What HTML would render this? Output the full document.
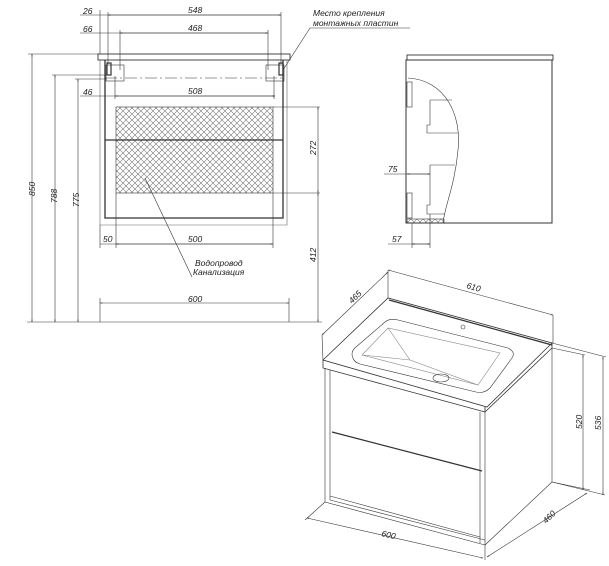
<!DOCTYPE html>
<html><head><style>body{margin:0;background:#fff}svg{display:block}text{font-family:"Liberation Sans",sans-serif;font-style:italic;font-size:8.5px;fill:#222}</style></head>
<body>
<svg width="609" height="566" viewBox="0 0 609 566" xmlns="http://www.w3.org/2000/svg">
<defs>
<pattern id="h" width="6" height="6" patternUnits="userSpaceOnUse"><path d="M0 0L6 6M6 0L0 6" stroke="#777" stroke-width="0.6"/></pattern>
<marker id="a" viewBox="0 0 10 10" refX="10" refY="5" markerWidth="6" markerHeight="4" orient="auto-start-reverse"><path d="M0 2L10 5L0 8" fill="none" stroke="#333"/></marker>
</defs>
<g stroke="#333" stroke-width="0.6" fill="none">
<!-- front view top dims -->
<line x1="80" y1="15" x2="281" y2="15"/><line x1="108" y1="15" x2="281" y2="15" marker-start="url(#a)" marker-end="url(#a)"/>
<line x1="80" y1="33" x2="268" y2="33"/><line x1="120" y1="33" x2="268" y2="33" marker-start="url(#a)" marker-end="url(#a)"/>
<line x1="100" y1="10" x2="100" y2="54"/><line x1="108" y1="12" x2="108" y2="64"/><line x1="281" y1="12" x2="281" y2="64"/><line x1="120" y1="30" x2="120" y2="70"/><line x1="268" y1="30" x2="268" y2="70"/>
<!-- countertop and body -->
<rect x="98" y="54" width="192" height="6" stroke-width="0.9"/>
<path d="M100 60V225H287V60" stroke="#666"/>
<path d="M105 60V218H283V60" stroke-width="1.3"/>
<rect x="106" y="65" width="18" height="16"/><rect x="266" y="65" width="18" height="16"/>
<rect x="107" y="63" width="4" height="12" stroke-width="1.2"/><rect x="279" y="63" width="4" height="12" stroke-width="1.2"/>
<line x1="105" y1="78" x2="283" y2="78" stroke-dasharray="12 3 2 3"/>
<line x1="80" y1="96" x2="275" y2="96"/><line x1="115" y1="96" x2="275" y2="96" marker-start="url(#a)" marker-end="url(#a)"/>
<line x1="115" y1="76" x2="115" y2="99"/><line x1="274" y1="76" x2="274" y2="99"/>
<rect x="116" y="107" width="157" height="86" fill="url(#h)"/>
<line x1="105" y1="140" x2="283" y2="140" stroke-width="1.2"/>
<line x1="273" y1="107" x2="320" y2="107"/><line x1="273" y1="193" x2="320" y2="193"/>
<line x1="318" y1="107" x2="318" y2="193" marker-start="url(#a)" marker-end="url(#a)"/>
<line x1="318" y1="193" x2="318" y2="322" marker-start="url(#a)" marker-end="url(#a)"/>
<line x1="100" y1="225" x2="100" y2="248"/><line x1="116" y1="193" x2="116" y2="248"/><line x1="273" y1="193" x2="273" y2="248"/>
<line x1="100" y1="244" x2="273" y2="244"/><line x1="116" y1="244" x2="273" y2="244" marker-start="url(#a)" marker-end="url(#a)"/>
<line x1="145" y1="178" x2="192" y2="277"/>
<line x1="100" y1="298" x2="100" y2="322"/><line x1="289" y1="298" x2="289" y2="322"/>
<line x1="100" y1="303" x2="289" y2="303" marker-start="url(#a)" marker-end="url(#a)"/>
<line x1="27" y1="322" x2="322" y2="322"/>
<line x1="28" y1="54" x2="98" y2="54"/><line x1="32" y1="54" x2="32" y2="322" marker-start="url(#a)" marker-end="url(#a)"/>
<line x1="52" y1="75" x2="107" y2="75"/><line x1="55" y1="75" x2="55" y2="322" marker-start="url(#a)" marker-end="url(#a)"/>
<line x1="75" y1="79" x2="107" y2="79"/><line x1="78" y1="79" x2="78" y2="322" marker-start="url(#a)" marker-end="url(#a)"/>
<!-- leader top right -->
<path d="M283 70L310 28H410"/>
<!-- side view -->
<rect x="407" y="55" width="146" height="5" stroke-width="0.9"/>
<rect x="406" y="60" width="146" height="163" stroke-width="1"/>
<path d="M408 78C445 80 462 115 458 150C455 185 445 205 443 223"/>
<rect x="407" y="82" width="5" height="25"/><rect x="407" y="193" width="5" height="25"/>
<path d="M430 100H452M430 100V125H427V133H458M430 165H455M430 165V205H427V214H445"/>
<rect x="407" y="219" width="37" height="4" fill="url(#h)"/>
<line x1="384" y1="174" x2="430" y2="174"/><line x1="407" y1="174" x2="430" y2="174" marker-start="url(#a)" marker-end="url(#a)"/>
<line x1="412" y1="223" x2="412" y2="248"/><line x1="430" y1="214" x2="430" y2="248"/>
<line x1="388" y1="244" x2="430" y2="244"/><line x1="412" y1="244" x2="430" y2="244" marker-start="url(#a)" marker-end="url(#a)"/>
<!-- iso view -->
<path d="M323 360L388 298L552 343L487 407Z" stroke-width="0.8"/>
<path d="M323 360V368L485 412V407M485 412L552 348V343" stroke-width="0.8"/>
<line x1="389" y1="300" x2="552" y2="345" stroke-width="1.3"/>
<path d="M325 368V502L485 545V412M330 370V500M480 412V543M552 348V482L485 545"/>
<path d="M330 500L485 540M330 496L480 537"/>
<line x1="332" y1="432" x2="482" y2="471" stroke-width="1.2"/>
<path d="M353 358Q350 352 356 347L385 322Q390 318 398 320L508 348Q516 352 512 358L490 388Q484 394 476 392L360 364Q354 362 353 358Z"/>
<path d="M362 355L388 328L500 353L478 385Z" stroke="#888"/>
<path d="M388 328L410 360L478 385M362 355L410 360" stroke="#888"/>
<ellipse cx="441" cy="378" rx="8" ry="4"/><circle cx="463" cy="327" r="2"/>
<line x1="388" y1="270" x2="553" y2="315" marker-start="url(#a)" marker-end="url(#a)"/>
<line x1="388" y1="270" x2="388" y2="298"/><line x1="553" y1="315" x2="553" y2="343"/>
<line x1="322" y1="335" x2="388" y2="272" marker-start="url(#a)" marker-end="url(#a)"/>
<line x1="322" y1="335" x2="323" y2="360"/>
<line x1="552" y1="343" x2="606" y2="357"/><line x1="552" y1="348" x2="585" y2="355"/>
<line x1="552" y1="482" x2="605" y2="495"/>
<line x1="583" y1="355" x2="583" y2="490" marker-start="url(#a)" marker-end="url(#a)"/>
<line x1="603" y1="357" x2="603" y2="495" marker-start="url(#a)" marker-end="url(#a)"/>
<line x1="307" y1="518" x2="483" y2="558" marker-start="url(#a)" marker-end="url(#a)"/>
<line x1="325" y1="502" x2="305" y2="520"/><line x1="485" y1="545" x2="485" y2="560"/>
<line x1="487" y1="557" x2="587" y2="493" marker-start="url(#a)" marker-end="url(#a)"/>
<line x1="552" y1="482" x2="590" y2="490"/>
</g>
<text x="83" y="14">26</text><text x="188" y="13">548</text>
<text x="83" y="32">66</text><text x="188" y="31">468</text>
<text x="83" y="95">46</text><text x="188" y="94">508</text>
<text x="103" y="242">50</text><text x="188" y="242">500</text>
<text x="188" y="302">600</text>
<text x="195" y="266">Водопровод</text><text x="193" y="275">Канализация</text>
<text x="313" y="16">Место крепления</text><text x="313" y="26">монтажных пластин</text>
<text transform="translate(35,196) rotate(-90)">850</text>
<text transform="translate(57,203) rotate(-90)">788</text>
<text transform="translate(79,207) rotate(-90)">775</text>
<text transform="translate(316,155) rotate(-90)">272</text>
<text transform="translate(316,262) rotate(-90)">412</text>
<text x="388" y="172">75</text><text x="392" y="242">57</text>
<text transform="translate(466,288) rotate(16)">610</text>
<text transform="translate(352,304) rotate(-44)">465</text>
<text transform="translate(582,429) rotate(-90)">520</text>
<text transform="translate(601,430) rotate(-90)">536</text>
<text transform="translate(381,536) rotate(13)">600</text>
<text transform="translate(546,524) rotate(-44)">460</text>
</svg>
</body></html>
